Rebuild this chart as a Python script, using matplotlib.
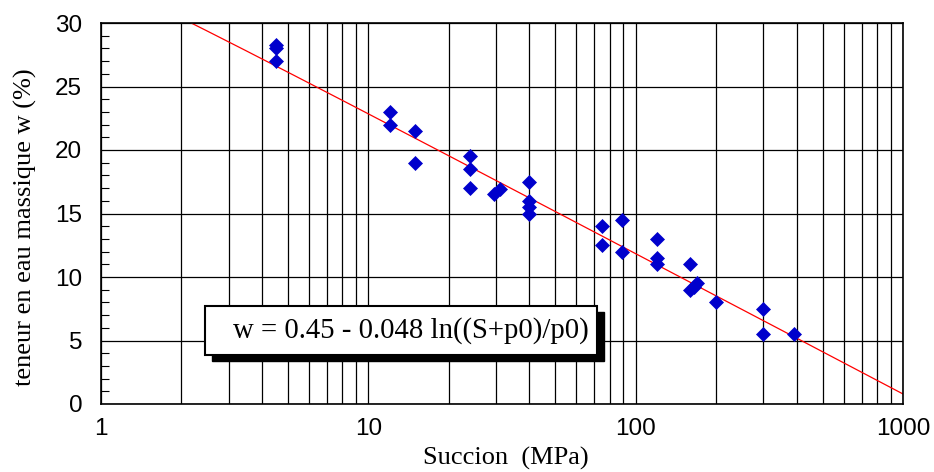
import numpy as np
import matplotlib
matplotlib.use("Agg")
import matplotlib.pyplot as plt
from matplotlib.ticker import LogLocator, FixedLocator, MultipleLocator, FuncFormatter
from matplotlib.patches import Rectangle

# Data (succion in MPa, water content in %)
succion = [4.5, 4.5, 4.5, 12, 12, 15, 15, 24, 24, 24, 29.5, 31, 40, 40, 40, 40,
           75, 75, 89, 89, 120, 120, 120, 160, 160, 165, 170, 200, 300, 300, 390]
teneur = [28.3, 28.0, 27.0, 23.0, 22.0, 21.5, 19.0, 19.5, 18.5, 17.0, 16.5, 16.9, 17.5, 16.0, 15.5, 15.0,
          14.0, 12.5, 14.5, 12.0, 13.0, 11.5, 11.0, 11.0, 9.0, 9.2, 9.5, 8.0, 7.5, 5.5, 5.5]

# Fit parameters (from the equation in the chart)
a_fit = 0.45
b_fit = 0.048
p0 = 0.1  # MPa

x_ticks = [1, 10, 100, 1000]
y_ticks = [0, 5, 10, 15, 20, 25, 30]

W, H = 934, 472
fig = plt.figure(figsize=(9.34, 4.72), dpi=100)
ax = fig.add_axes([101/W, 1-404/H, 802/W, 381/H])

ax.set_xscale("log")
ax.set_xlim(1, 1000)
ax.set_ylim(0, 30)

# grid
ax.xaxis.set_major_locator(FixedLocator(x_ticks))
ax.xaxis.set_minor_locator(LogLocator(base=10, subs=np.arange(2, 10)))
ax.xaxis.set_minor_formatter(plt.NullFormatter())
ax.xaxis.set_major_formatter(FuncFormatter(lambda v, p: f"{v:g}"))
ax.yaxis.set_major_locator(FixedLocator(y_ticks))
ax.yaxis.set_minor_locator(MultipleLocator(1))
ax.grid(True, which="major", axis="both", color="black", lw=0.9)
ax.grid(True, which="minor", axis="x", color="black", lw=0.9)
ax.set_axisbelow(True)

# fit line
s_line = np.logspace(0, 3, 400)
w_line = 100 * (a_fit - b_fit * np.log((s_line + p0) / p0))
ax.plot(s_line, w_line, color="red", lw=0.9, zorder=2)

ax.plot(succion, teneur, linestyle="none", marker="D", ms=7.3,
        color="#0000CC", markeredgecolor="#0000CC", markeredgewidth=0.5, zorder=3)

for sp in ax.spines.values():
    sp.set_linewidth(1.2)
    sp.set_color("black")

ax.tick_params(axis="both", which="both", direction="in", colors="black")
ax.tick_params(axis="y", which="major", length=0, pad=13.5, labelsize=17.5)
ax.tick_params(axis="y", which="minor", length=6, width=0.8)
ax.tick_params(axis="x", which="major", length=0, pad=10, labelsize=17.5)
ax.tick_params(axis="x", which="minor", length=0)
for lab in ax.get_xticklabels() + ax.get_yticklabels():
    lab.set_fontfamily("Liberation Sans")

ax.set_xlabel("Succion  (MPa)", fontfamily="Liberation Serif", fontsize=19)
ax.set_ylabel("teneur en eau massique w (%)", fontfamily="Liberation Serif", fontsize=19)
ax.xaxis.set_label_coords(0.505, (404-447)/381)
ax.yaxis.set_label_coords((37-101)/802, (404-227)/381)

# equation box with shadow
bx0, by0, bx1, by1 = 205, 306, 597, 355
shadow = Rectangle(((bx0+7)/W, 1-(by1+6)/H), (bx1-bx0)/W, (by1-by0)/H,
                   transform=fig.transFigure, facecolor="black", edgecolor="black", zorder=5)
box = Rectangle((bx0/W, 1-by1/H), (bx1-bx0)/W, (by1-by0)/H,
                transform=fig.transFigure, facecolor="white", edgecolor="black", lw=1.5, zorder=6)
fig.add_artist(shadow)
fig.add_artist(box)
fig.text(233/W, 1-331/H, "w = 0.45 - 0.048 ln((S+p0)/p0)", fontfamily="Liberation Serif",
         fontsize=20.7, ha="left", va="center", zorder=7)

fig.savefig("out.png", dpi=100)
